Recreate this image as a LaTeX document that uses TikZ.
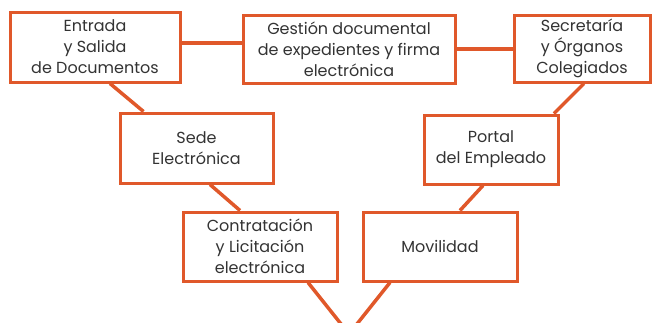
\documentclass[tikz,border=0pt]{standalone}
\usepackage{fontspec}
\setmainfont{Poppins}
\usepackage{tikz}
\usetikzlibrary{calc}
\definecolor{naranja}{HTML}{E0582A}

\begin{document}
\begin{tikzpicture}[x = 1pt, y = -1pt,
  caja/.style = {draw = naranja, line width = 3pt, fill = white, align = center,
    inner sep = 0pt, font = \fontsize{16}{21}\selectfont, text = black!80},
  enlace/.style = {draw = naranja, line width = 3.5pt}]
\useasboundingbox (0, 0) rectangle (657, 322);
%\draw[very thin, color = gray](0, 0) grid[step = 50] (657, 322);
\node [caja, minimum width = 170, minimum height = 70] (entrada) at (95, 47) {Entrada\\y Salida\\de Documentos};
\node [caja, minimum width = 212, minimum height = 68] (gestion) at (349, 49) {Gestión documental\\de expedientes y firma\\electrónica};
\node [caja, minimum width = 136, minimum height = 67] (secretaria) at (582, 48.5) {Secretaría\\y Órganos\\Colegiados};
\node [caja, minimum width = 153, minimum height = 70] (sede) at (196.5, 148) {Sede\\Electrónica};
\node [caja, minimum width = 134, minimum height = 69] (portal) at (491, 149.5) {Portal\\del Empleado};
\node [caja, minimum width = 154, minimum height = 69] (contratacion) at (260, 246.5) {Contratación\\y Licitación\\electrónica};
\node [caja, minimum width = 154, minimum height = 69] (movilidad) at (440, 246.5) {Movilidad};
\coordinate (vertice) at (349, 334);
\draw [enlace] ([yshift = 4pt]entrada.east) -- ([yshift = 4pt]entrada.east -| gestion.west);
\draw [enlace] (gestion.east) -- (gestion.east -| secretaria.west);
\draw [enlace] ([xshift = 15pt]entrada.south) -- ([xshift = -53pt]sede.north);
\draw [enlace] ([xshift = 2pt]secretaria.south) -- ([xshift = 63pt]portal.north);
\draw [enlace] ([xshift = 13.5pt]sede.south) -- ([xshift = -20pt]contratacion.north);
\draw [enlace] ([xshift = -8pt]portal.south) -- ([xshift = 20pt]movilidad.north);
\draw [enlace] ([xshift = 48pt]contratacion.south) -- (vertice) -- ([xshift = -50pt]movilidad.south);
\end{tikzpicture}
\end{document}
